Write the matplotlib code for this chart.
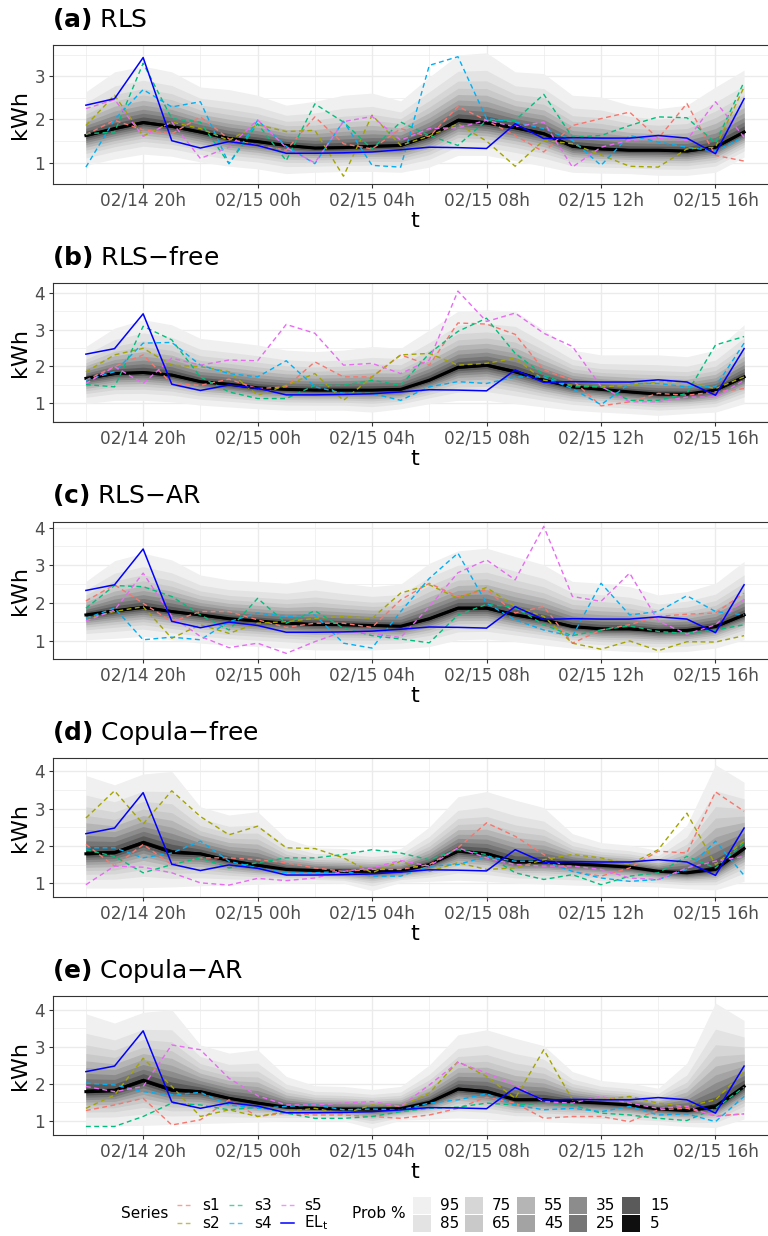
import numpy as np
import pandas as pd
import matplotlib
matplotlib.use("Agg")
import matplotlib.pyplot as plt
import matplotlib.dates as mdates
from matplotlib.ticker import MultipleLocator
from matplotlib.patches import Rectangle
from matplotlib.lines import Line2D

plt.rcParams['font.family'] = ['DejaVu Sans']
plt.rcParams['mathtext.fontset'] = 'dejavusans'

# ---------------- data ----------------
times = pd.date_range("2021-02-14 18:00", periods=24, freq="h")

el_t = [2.33, 2.48, 3.43, 1.51, 1.34, 1.49, 1.40, 1.22, 1.22, 1.23, 1.25, 1.30,
        1.36, 1.35, 1.33, 1.90, 1.56, 1.58, 1.57, 1.57, 1.63, 1.57, 1.21, 2.48]

# (a) RLS
a_med = [1.63, 1.79, 1.93, 1.84, 1.71, 1.56, 1.49, 1.40, 1.34, 1.35, 1.38, 1.40,
         1.62, 1.98, 1.92, 1.81, 1.67, 1.38, 1.32, 1.29, 1.29, 1.27, 1.36, 1.71]
a_hi95 = [2.64, 3.10, 3.23, 3.10, 2.75, 2.69, 2.56, 2.33, 2.42, 2.56, 2.61, 2.43,
          2.98, 3.49, 3.54, 3.10, 3.06, 2.56, 2.52, 2.33, 2.25, 2.33, 2.75, 3.14]
a_lo95 = [0.94, 1.09, 1.20, 1.15, 1.02, 0.92, 0.86, 0.75, 0.78, 0.80, 0.80, 0.78,
          0.90, 1.17, 1.17, 1.05, 0.92, 0.78, 0.76, 0.75, 0.71, 0.71, 0.78, 1.13]
a_s1 = [1.65, 1.98, 1.76, 1.67, 2.06, 1.55, 1.40, 1.29, 2.06, 1.44, 1.32, 1.79,
        1.60, 2.30, 1.98, 1.63, 1.25, 1.86, 2.02, 2.17, 1.56, 2.37, 1.17, 1.04]
a_s2 = [1.86, 2.56, 1.62, 1.94, 1.79, 1.52, 1.88, 1.72, 1.75, 0.69, 2.10, 1.40,
        1.62, 1.90, 1.50, 0.92, 1.52, 1.44, 1.18, 0.92, 0.90, 1.32, 1.36, 2.75]
a_s3 = [1.67, 1.71, 3.30, 2.02, 1.94, 0.98, 1.90, 1.05, 2.36, 1.94, 1.32, 1.94,
        1.63, 1.40, 1.98, 1.98, 2.58, 1.59, 1.63, 1.86, 2.06, 2.04, 1.46, 2.87]
a_s4 = [0.90, 2.00, 2.69, 2.29, 2.41, 0.98, 1.98, 1.38, 0.98, 1.96, 0.94, 0.90,
        3.25, 3.45, 2.02, 1.94, 1.79, 1.52, 0.94, 1.63, 1.48, 1.36, 1.27, 1.60]
a_s5 = [2.25, 2.46, 1.61, 1.94, 1.10, 1.36, 1.99, 1.35, 1.00, 1.95, 2.07, 1.52,
        1.79, 1.81, 1.98, 1.83, 1.94, 0.90, 1.36, 1.52, 1.56, 1.52, 2.41, 1.59]

# (b) RLS-free
b_med = [1.67, 1.80, 1.83, 1.76, 1.58, 1.51, 1.41, 1.37, 1.35, 1.35, 1.35, 1.37,
         1.62, 1.97, 2.03, 1.85, 1.62, 1.44, 1.37, 1.30, 1.24, 1.24, 1.35, 1.71]
b_hi95 = [2.54, 3.04, 3.27, 3.13, 2.76, 2.67, 2.58, 2.44, 2.40, 2.44, 2.54, 2.49,
          2.99, 3.50, 3.54, 3.50, 2.99, 2.44, 2.31, 2.31, 2.31, 2.26, 2.44, 3.13]
b_lo95 = [0.98, 1.07, 1.07, 1.03, 0.94, 0.89, 0.84, 0.80, 0.80, 0.80, 0.75, 0.84,
          0.98, 1.07, 1.07, 0.98, 0.89, 0.80, 0.75, 0.71, 0.66, 0.71, 0.75, 0.98]
b_s1 = [1.62, 1.99, 2.31, 1.53, 1.48, 1.65, 1.39, 1.44, 2.12, 1.71, 1.71, 2.31,
        2.03, 3.18, 3.15, 2.87, 1.90, 1.62, 0.92, 1.03, 1.26, 1.21, 1.30, 1.39]
b_s2 = [1.85, 2.31, 2.49, 2.03, 1.99, 1.85, 1.21, 1.48, 1.80, 1.07, 1.71, 2.31,
        2.35, 2.03, 2.08, 2.22, 1.62, 1.48, 1.44, 1.48, 1.58, 1.58, 1.39, 1.71]
b_s3 = [1.50, 1.44, 3.09, 2.72, 1.71, 1.30, 1.12, 1.12, 1.48, 1.48, 1.62, 1.48,
        2.35, 2.95, 3.31, 2.35, 1.76, 1.44, 1.44, 1.07, 1.07, 1.26, 2.58, 2.81]
b_s4 = [1.62, 1.85, 2.63, 2.65, 2.03, 1.80, 1.71, 2.15, 1.44, 1.26, 1.26, 1.07,
        1.44, 1.58, 1.53, 1.71, 1.71, 1.39, 0.95, 1.53, 1.53, 1.44, 1.44, 2.63]
b_s5 = [1.53, 1.99, 1.53, 2.22, 2.03, 2.17, 2.15, 3.14, 2.90, 2.03, 2.08, 1.80,
        2.17, 4.05, 3.22, 3.45, 2.90, 2.54, 1.45, 1.03, 1.03, 1.16, 1.16, 1.62]

# (c) RLS-AR
c_med = [1.68, 1.79, 1.88, 1.77, 1.68, 1.58, 1.52, 1.46, 1.43, 1.42, 1.40, 1.38,
         1.58, 1.86, 1.86, 1.68, 1.55, 1.37, 1.31, 1.31, 1.26, 1.27, 1.37, 1.68]
c_hi95 = [2.57, 3.12, 3.32, 3.14, 2.74, 2.61, 2.57, 2.52, 2.64, 2.52, 2.43, 2.50,
          3.05, 3.38, 3.45, 3.23, 3.01, 2.57, 2.52, 2.43, 2.21, 2.30, 2.52, 3.10]
c_lo95 = [1.02, 1.06, 1.11, 1.02, 0.93, 0.88, 0.84, 0.80, 0.75, 0.75, 0.75, 0.78,
          0.84, 1.02, 1.04, 0.97, 0.88, 0.80, 0.75, 0.71, 0.69, 0.71, 0.80, 1.02]
c_s1 = [2.05, 2.48, 1.99, 1.50, 1.77, 1.77, 1.55, 1.35, 1.46, 1.46, 1.35, 2.08,
        2.52, 2.17, 2.35, 1.73, 1.90, 0.93, 1.28, 1.42, 1.64, 1.70, 1.73, 2.26]
c_s2 = [1.59, 1.77, 1.90, 1.06, 1.42, 1.19, 1.46, 1.50, 1.59, 1.64, 1.59, 2.26,
        2.48, 2.12, 2.41, 1.90, 1.64, 0.93, 0.77, 0.99, 0.73, 0.97, 0.96, 1.13]
c_s3 = [1.86, 2.46, 2.43, 2.17, 1.68, 1.28, 2.12, 1.46, 1.79, 1.33, 1.13, 1.04,
        0.94, 1.68, 1.96, 1.88, 1.42, 1.13, 1.28, 1.39, 1.24, 1.19, 1.28, 1.42]
c_s4 = [1.59, 1.86, 1.02, 1.09, 1.02, 1.50, 1.73, 1.64, 1.68, 0.93, 0.80, 1.77,
        2.65, 3.32, 1.99, 1.55, 1.28, 1.11, 2.52, 1.68, 1.77, 2.19, 1.77, 1.68]
c_s5 = [1.52, 1.81, 2.79, 1.64, 1.11, 0.81, 0.93, 0.66, 0.97, 1.24, 1.19, 1.08,
        1.90, 2.80, 3.14, 2.61, 4.03, 2.17, 2.04, 2.79, 1.52, 1.17, 1.42, 2.10]

# (d)/(e) Copula marginal fan (shared)
cop_med = [1.79, 1.82, 2.09, 1.83, 1.79, 1.61, 1.48, 1.37, 1.34, 1.32, 1.32, 1.33,
           1.50, 1.86, 1.79, 1.57, 1.57, 1.52, 1.48, 1.43, 1.32, 1.28, 1.37, 1.93]
cop_hi95 = [3.89, 3.64, 3.93, 4.00, 3.05, 2.83, 2.92, 2.20, 1.95, 1.93, 1.85, 1.93,
            2.51, 3.32, 3.46, 3.23, 3.03, 2.33, 2.09, 2.02, 1.88, 2.56, 4.18, 3.71]
cop_lo95 = [0.87, 0.87, 0.88, 0.90, 0.93, 0.95, 0.97, 1.00, 1.02, 1.00, 0.80, 1.02,
            1.05, 1.08, 1.05, 1.00, 0.98, 0.95, 0.93, 0.92, 0.90, 0.85, 0.82, 1.05]

# (d) Copula-free
d_s1 = [2.04, 1.46, 2.04, 1.50, 1.68, 1.68, 1.63, 1.55, 1.41, 1.32, 1.37, 1.37,
        1.50, 1.95, 2.62, 2.26, 1.77, 1.32, 1.19, 1.41, 1.86, 1.81, 3.45, 2.93]
d_s2 = [2.75, 3.48, 2.59, 3.48, 2.79, 2.30, 2.53, 1.95, 1.93, 1.68, 1.28, 1.59,
        1.32, 1.55, 1.37, 1.41, 1.63, 1.77, 1.68, 1.50, 1.90, 2.88, 1.50, 2.13]
d_s3 = [1.90, 1.72, 1.28, 1.50, 1.68, 1.41, 1.55, 1.68, 1.68, 1.77, 1.90, 1.81,
        1.63, 1.90, 1.77, 1.28, 1.10, 1.23, 0.96, 1.19, 1.28, 1.72, 1.41, 2.08]
d_s4 = [1.95, 1.95, 1.68, 1.81, 2.13, 1.59, 1.41, 1.28, 1.28, 1.32, 1.19, 1.19,
        1.46, 1.50, 1.72, 1.59, 1.59, 1.32, 1.14, 1.05, 1.10, 1.37, 2.13, 1.21]
d_s5 = [0.96, 1.46, 1.43, 1.28, 1.01, 0.95, 1.13, 1.07, 1.14, 1.32, 1.41, 1.61,
        1.46, 1.95, 1.68, 1.50, 1.46, 1.46, 1.37, 1.14, 1.10, 1.41, 1.59, 1.72]

# (e) Copula-AR
e_s1 = [1.28, 1.43, 1.61, 0.89, 1.03, 1.57, 1.12, 1.21, 1.16, 1.16, 1.12, 1.07,
        1.16, 1.34, 1.64, 1.48, 1.07, 1.12, 1.12, 0.98, 1.30, 1.34, 1.14, 1.19]
e_s2 = [1.34, 1.70, 2.69, 1.93, 1.12, 1.30, 1.12, 1.25, 1.34, 1.19, 1.43, 1.39,
        1.75, 2.60, 2.20, 1.61, 2.92, 1.57, 1.57, 1.66, 1.48, 1.39, 1.57, 2.33]
e_s3 = [0.85, 0.85, 1.12, 1.48, 1.43, 1.30, 1.37, 1.21, 1.07, 1.07, 1.12, 1.25,
        1.34, 1.37, 1.48, 1.43, 1.48, 1.43, 1.21, 1.16, 1.07, 1.01, 1.34, 1.91]
e_s4 = [2.02, 1.97, 1.79, 1.70, 1.77, 1.43, 1.34, 1.39, 1.43, 1.30, 1.32, 1.30,
        1.48, 1.57, 1.73, 1.43, 1.30, 1.34, 1.25, 1.39, 1.16, 1.19, 0.98, 1.66]
e_s5 = [1.93, 1.79, 1.93, 3.05, 2.92, 2.15, 1.68, 1.43, 1.43, 1.48, 1.52, 1.39,
        1.97, 2.58, 2.29, 1.97, 1.52, 1.48, 1.66, 1.48, 1.34, 1.39, 1.12, 1.19]

series_names = ["s1", "s2", "s3", "s4", "s5"]
series_colors = ["#F8766D", "#A3A500", "#00BF7D", "#00B0F6", "#E76BF3"]

band_levels = [95, 85, 75, 65, 55, 45, 35, 25, 15, 5]
band_colors = ["#F0F0F0", "#E3E3E3", "#D6D6D6", "#C9C9C9", "#B5B5B5",
               "#A3A3A3", "#8C8C8C", "#767676", "#5A5A5A", "#0F0F0F"]
# relative half-width of each interval w.r.t. the 95% interval (read from the fans)
band_frac = [1.0, 0.75, 0.60, 0.49, 0.395, 0.31, 0.235, 0.165, 0.10, 0.035]

panels = [
    ("(a)", "RLS", a_med, a_lo95, a_hi95, [a_s1, a_s2, a_s3, a_s4, a_s5], (0.51, 3.72)),
    ("(b)", "RLS\u2212free", b_med, b_lo95, b_hi95, [b_s1, b_s2, b_s3, b_s4, b_s5], (0.48, 4.27)),
    ("(c)", "RLS\u2212AR", c_med, c_lo95, c_hi95, [c_s1, c_s2, c_s3, c_s4, c_s5], (0.51, 4.16)),
    ("(d)", "Copula\u2212free", cop_med, cop_lo95, cop_hi95, [d_s1, d_s2, d_s3, d_s4, d_s5], (0.63, 4.36)),
    ("(e)", "Copula\u2212AR", cop_med, cop_lo95, cop_hi95, [e_s1, e_s2, e_s3, e_s4, e_s5], (0.62, 4.37)),
]

# ---------------- layout (pixels) ----------------
W, H = 768, 1236
panel_px = [(45, 184), (283, 422), (521.5, 659), (758, 897), (996, 1135)]
left_px, width_px = 53, 724

fig = plt.figure(figsize=(W / 100, H / 100), dpi=100)
fig.patch.set_facecolor("white")

xnum = mdates.date2num(times.to_pydatetime())
hr = 1.0 / 24
xlim = (xnum[0] - 1.15 * hr, xnum[-1] + 1.15 * hr)

for i, (tag, name, med, lo, hi, series, ylim) in enumerate(panels):
    top, bot = panel_px[i]
    ax = fig.add_axes([left_px / W, 1 - bot / H, width_px / W, (bot - top) / H])
    med = np.array(med); lo = np.array(lo); hi = np.array(hi)
    for f, col in zip(band_frac, band_colors):
        ax.fill_between(xnum, med - f * (med - lo), med + f * (hi - med),
                        color=col, lw=0, zorder=1)
    ax.plot(xnum, med, color="black", lw=2.2, zorder=3)
    for s, c in zip(series, series_colors):
        ax.plot(xnum, s, color=c, lw=1.0, ls=(0, (3.5, 2.5)), zorder=4)
    ax.plot(xnum, el_t, color="#0000FF", lw=1.1, zorder=5)

    ax.set_xlim(*xlim)
    ax.set_ylim(*ylim)
    ax.xaxis.set_major_locator(mdates.HourLocator(byhour=[0, 4, 8, 12, 16, 20]))
    ax.xaxis.set_minor_locator(mdates.HourLocator(byhour=[2, 6, 10, 14, 18, 22]))
    ax.xaxis.set_major_formatter(mdates.DateFormatter("%m/%d %Hh"))
    ax.yaxis.set_major_locator(MultipleLocator(1))
    ax.yaxis.set_minor_locator(MultipleLocator(0.5))
    ax.set_axisbelow(True)
    ax.grid(which="major", color="#EBEBEB", lw=1.0, zorder=0)
    ax.grid(which="minor", color="#EBEBEB", lw=0.5, zorder=0)
    for sp in ax.spines.values():
        sp.set_color("#333333")
        sp.set_linewidth(0.8)
    ax.tick_params(which="major", length=2.75, width=0.8, color="#333333",
                   labelcolor="#4D4D4D", labelsize=12.2, pad=2.8)
    ax.tick_params(which="minor", length=0)

# overlay for titles, axis titles and legend
ov = fig.add_axes([0, 0, 1, 1], zorder=10)
ov.set_xlim(0, W)
ov.set_ylim(H, 0)
ov.axis("off")

for i, (tag, name, *_rest) in enumerate(panels):
    top, bot = panel_px[i]
    ov.text(52, top - 18, r"$\mathbf{" + tag + "}$ " + name, fontsize=18,
            ha="left", va="baseline", color="black")
    ov.text(20, (top + bot) / 2, "kWh", fontsize=16, rotation=90,
            ha="center", va="center", color="black")
    ov.text(left_px + width_px / 2, bot + 37, "t", fontsize=16,
            ha="center", va="center", color="black")

# legend: Series
ov.text(121, 1214, "Series", fontsize=11, ha="left", va="center")
key_cols = [(177, 202), (229, 254), (281, 304)]
rows_y = [1205, 1223]
legend_items = list(zip(series_names, series_colors)) + [(r"EL$_\mathrm{t}$", "#0000FF")]
for j, (lab, col) in enumerate(legend_items):
    cx, tx = key_cols[j // 2]
    ry = rows_y[j % 2]
    if lab.startswith("EL"):
        ov.add_line(Line2D([cx, cx + 13], [ry, ry], color=col, lw=1.1))
    else:
        ov.add_line(Line2D([cx, cx + 13], [ry, ry], color=col, lw=1.0,
                           ls=(0, (3.5, 2.5)), alpha=0.7))
    ov.text(tx, ry, lab, fontsize=11, ha="left", va="center")

# legend: Prob %
ov.text(352, 1214, "Prob %", fontsize=11, ha="left", va="center")
sq_x = [413, 465, 517, 569, 622]
txt_x = [440, 492, 544, 596, 650]
for j, (lev, col) in enumerate(zip(band_levels, band_colors)):
    c = j // 2
    r = j % 2
    y0 = 1197 if r == 0 else 1215
    ov.add_patch(Rectangle((sq_x[c], y0), 18, 17, facecolor=col, edgecolor="none"))
    ov.text(txt_x[c], rows_y[r], str(lev), fontsize=11, ha="left", va="center")

fig.savefig("out.png", dpi=100, facecolor="white")
